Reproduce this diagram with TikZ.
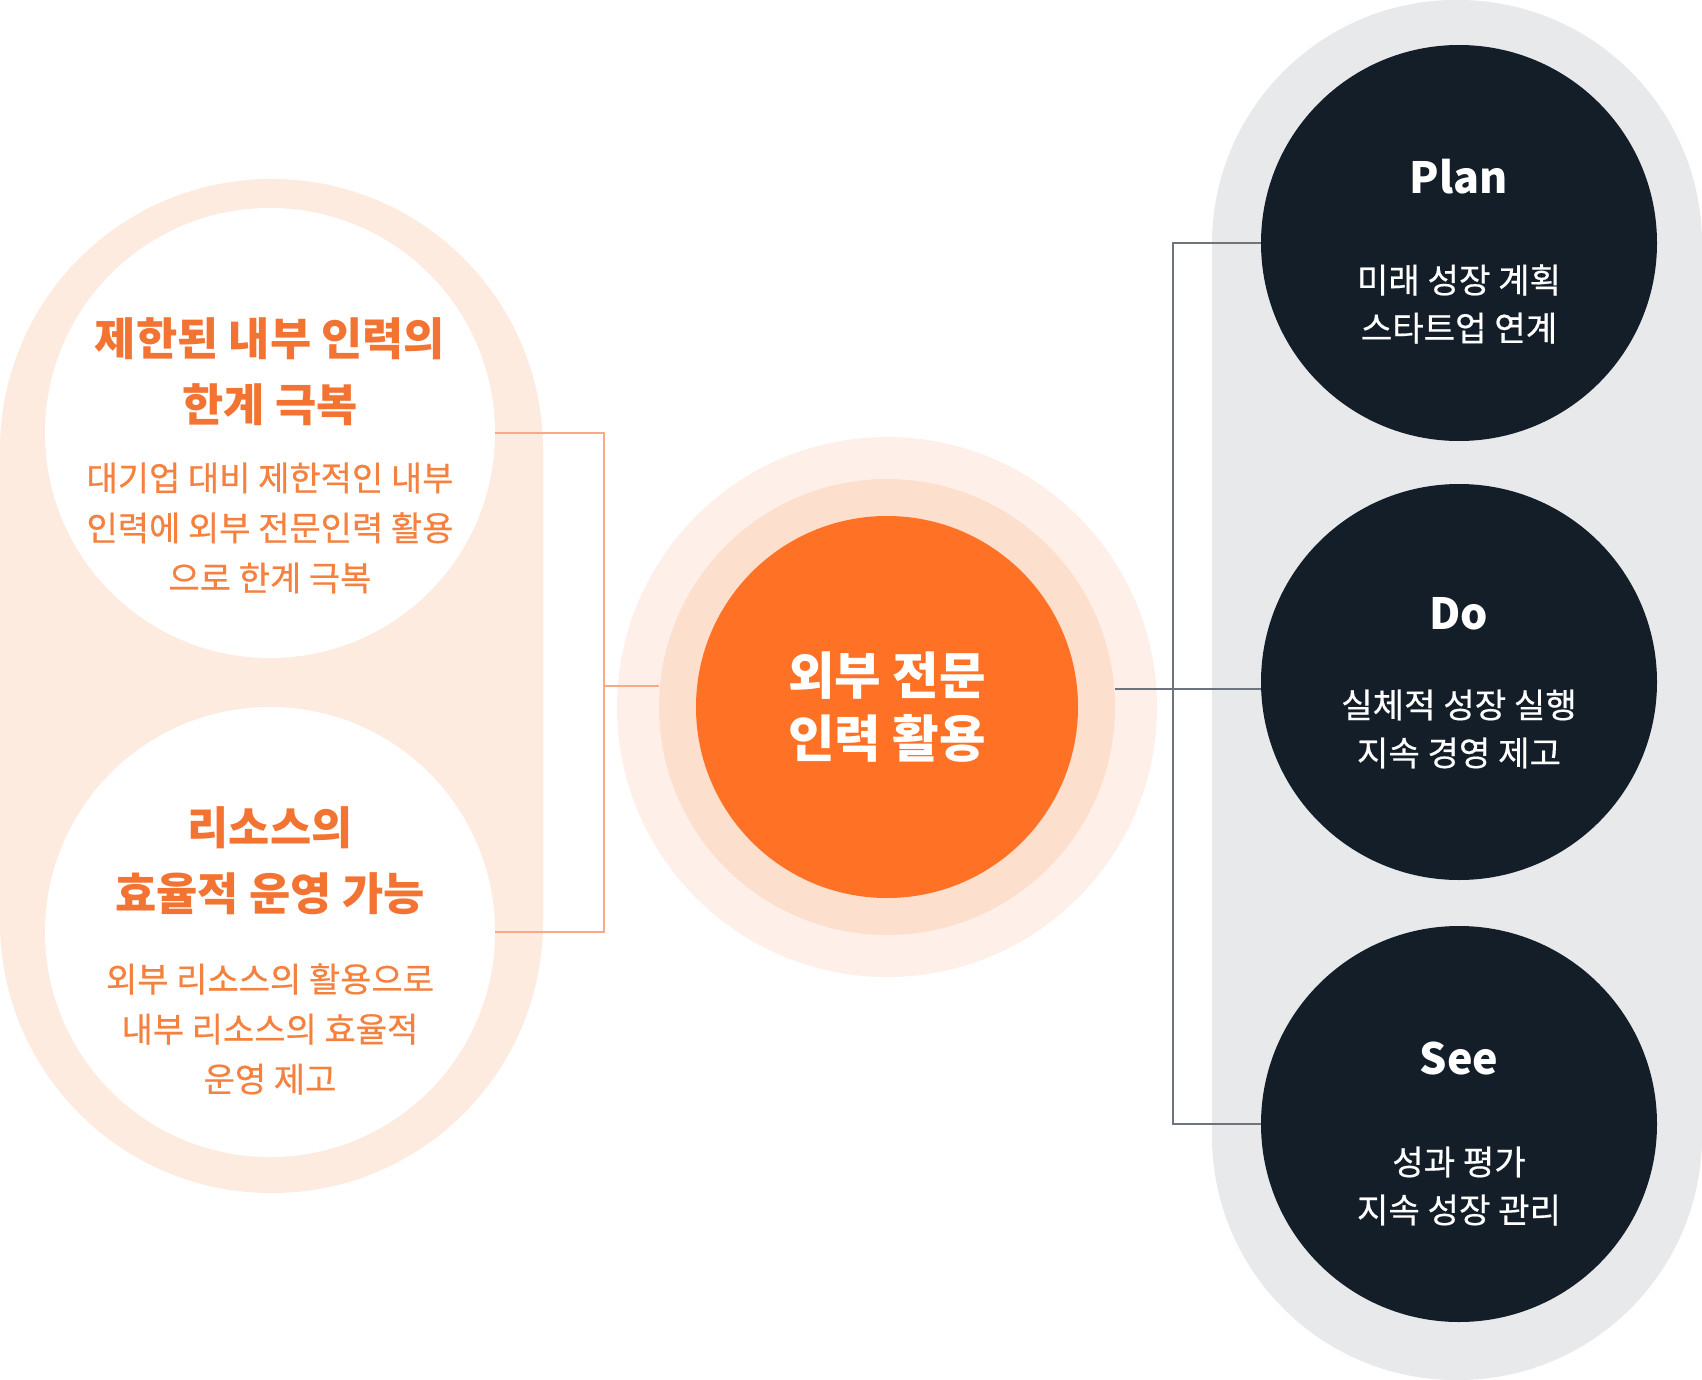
\documentclass[tikz,border=0pt]{standalone}
\usepackage{fontspec}
\newfontfamily\kr{Noto Sans CJK KR}
\newfontfamily\krmed[FakeBold=0.5]{Noto Sans CJK KR}
\definecolor{peach}{HTML}{FDEBE0}
\definecolor{ringA}{HTML}{FEF0E9}
\definecolor{ringB}{HTML}{FDDFCE}
\definecolor{coreor}{HTML}{FF7124}
\definecolor{ttlor}{HTML}{F37432}
\definecolor{bdyor}{HTML}{F5813F}
\definecolor{darkc}{HTML}{131E29}
\definecolor{graybg}{HTML}{E8E9EB}
\definecolor{lline}{HTML}{F9A983}
\definecolor{rline}{HTML}{6E747C}
\tikzset{
  wcirc/.style={circle, fill=white, minimum size=225pt, inner sep=0pt},
  ringouter/.style={circle, fill=ringA, minimum size=270pt, inner sep=0pt},
  ringmid/.style={circle, fill=ringB, minimum size=228pt, inner sep=0pt},
  corecirc/.style={circle, fill=coreor, minimum size=191pt, inner sep=0pt, text=white, align=center,
    font=\kr\bfseries\fontsize{25.3pt}{31.5pt}\selectfont},
  darkcirc/.style={circle, fill=darkc, minimum size=198pt, inner sep=0pt},
  ttltext/.style={text=ttlor, align=center, inner sep=0pt, font=\kr\bfseries\fontsize{22.4pt}{33pt}\selectfont},
  bdytext/.style={text=bdyor, align=center, inner sep=0pt, font=\krmed\fontsize{17pt}{25pt}\selectfont},
  phasettl/.style={text=white, align=center, inner sep=0pt, font=\kr\bfseries\fontsize{21.5pt}{26pt}\selectfont},
  phasebdy/.style={text=white, align=center, inner sep=0pt, font=\krmed\fontsize{17.1pt}{24pt}\selectfont},
  lconn/.style={draw=lline, line width=1pt},
  rconn/.style={draw=rline, line width=1.2pt}
}
\begin{document}
\begin{tikzpicture}[x=0.5pt,y=-0.5pt]
\useasboundingbox (0,0) rectangle (1702,1380);
\fill[white] (0,0) rectangle (1702,1380);
% backgrounds
\fill[peach, rounded corners=135.5pt] (0,179) rectangle (543,1193);
\fill[graybg, rounded corners=122pt] (1212,0) rectangle (1702,1380);
% left circles
\node[wcirc] (c1) at (270,433) {};
\node[wcirc] (c2) at (270,932) {};
\node[ttltext] (t1) at (270,372) {제한된 내부 인력의\\한계 극복};
\node[bdytext] (b1) at (270,528) {대기업 대비 제한적인 내부\\인력에 외부 전문인력 활용\\으로 한계 극복};
\node[ttltext] (t2) at (270,861) {리소스의\\효율적 운영 가능};
\node[bdytext] (b2) at (270,1029) {외부 리소스의 활용으로\\내부 리소스의 효율적\\운영 제고};
% center
\node[ringouter] (r1) at (887,707) {};
\node[ringmid] (r2) at (887,707) {};
\node[corecirc] (core) at (887,707) {외부 전문\\인력 활용};
% right circles
\node[darkcirc] (plan) at (1459,243) {};
\node[darkcirc] (do) at (1459,682) {};
\node[darkcirc] (see) at (1459,1124) {};
\node[phasettl] (pt) at (1459,177) {Plan};
\node[phasebdy] (pb) at (1459,304) {미래 성장 계획\\스타트업 연계};
\node[phasettl] (dt) at (1459,614) {Do};
\node[phasebdy] (db) at (1459,729) {실체적 성장 실행\\지속 경영 제고};
\node[phasettl] (st) at (1459,1058) {See};
\node[phasebdy] (sb) at (1459,1186) {성과 평가\\지속 성장 관리};
% connectors
\coordinate (jL) at (604,686);
\draw[lconn] (c1.east) -| (jL) |- (c2.east);
\draw[lconn] (jL) -- (r2.west |- jL);
\coordinate (jR) at (1173,689);
\draw[rconn] (plan.west) -| (jR) |- (see.west);
\draw[rconn] (r2.east |- jR) -- (do.west |- jR);
\end{tikzpicture}
\end{document}
